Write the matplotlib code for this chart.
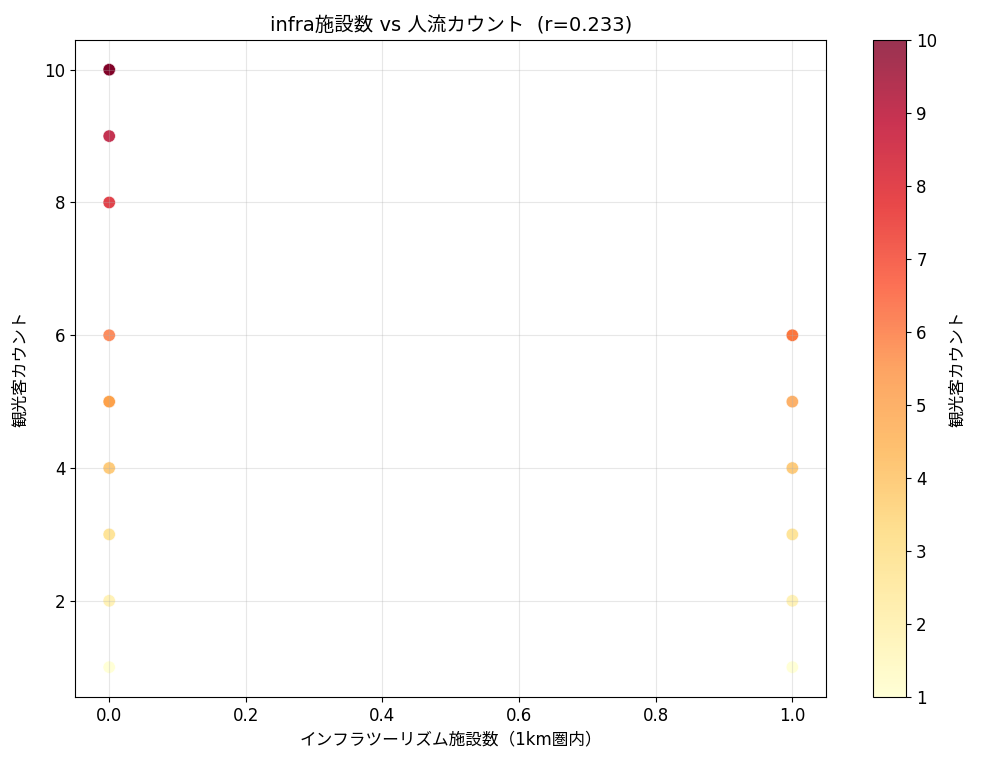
import matplotlib
matplotlib.use("Agg")
import matplotlib.pyplot as plt

plt.rcParams['font.family'] = ['DejaVu Sans', 'Noto Sans CJK JP']
plt.rcParams['font.size'] = 12

# infra facility count (within 1km) and visitor count per point
infra_count = [0, 0, 0, 0, 0, 0, 0, 0, 0, 0, 0, 0,
               1, 1, 1, 1, 1, 1, 1]
visitor_count = [10, 10, 10, 9, 8, 6, 5, 5, 4, 3, 2, 1,
                 6, 6, 5, 4, 3, 2, 1]
r_value = 0.233


def main():
    fig = plt.figure(figsize=(9.81, 7.66), dpi=100)
    ax = fig.add_axes([0.0765, 0.09, 0.766, 0.858])
    cax = fig.add_axes([0.89, 0.09, 0.034, 0.858])

    sc = ax.scatter(infra_count, visitor_count, c=visitor_count, cmap='YlOrRd',
                    s=80, alpha=0.8, edgecolors='white', linewidths=0.5)
    ax.set_title(f"infra施設数 vs 人流カウント  (r={r_value:.3f})", fontsize=14)
    ax.set_xlabel("インフラツーリズム施設数（1km圏内）", fontsize=12)
    ax.set_ylabel("観光客カウント", fontsize=12, labelpad=11)
    ax.tick_params(labelsize=12)
    ax.grid(True, alpha=0.3)

    cb = fig.colorbar(sc, cax=cax)
    cb.set_label("観光客カウント", fontsize=12, labelpad=8)
    cb.ax.tick_params(labelsize=12)

    fig.savefig("out.png", dpi=100)


if __name__ == "__main__":
    main()
